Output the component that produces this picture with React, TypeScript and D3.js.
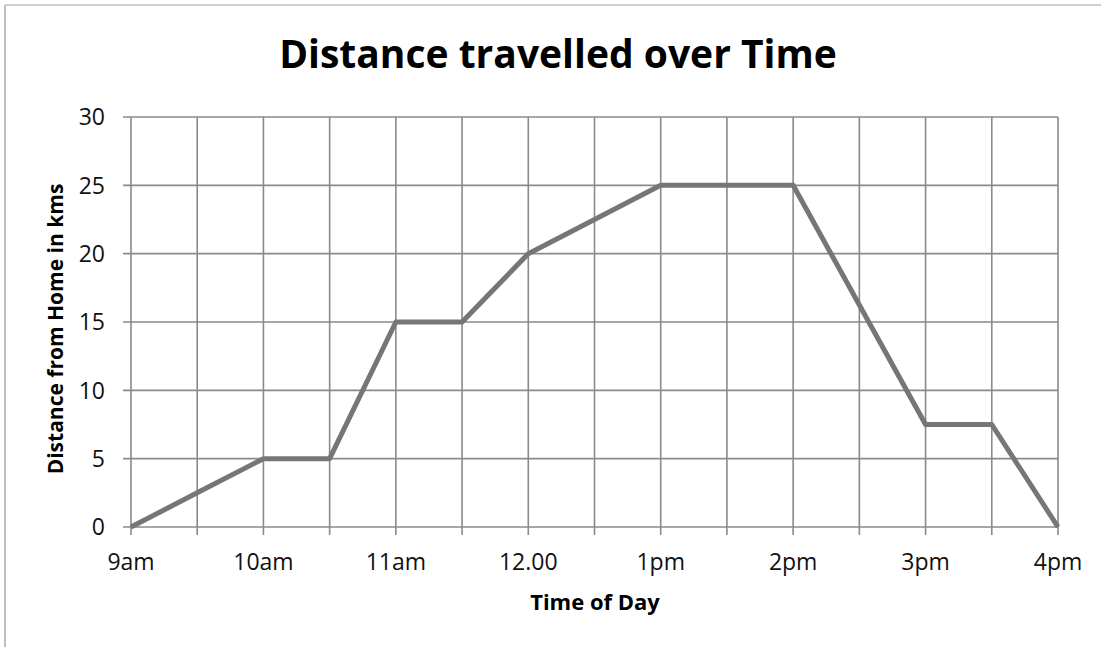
import React from "react";
import * as d3 from "d3";

const categories = ["9am", "9:30", "10am", "10:30", "11am", "11:30", "12.00", "12:30", "1pm", "1:30", "2pm", "2:30", "3pm", "3:30", "4pm"];
const tickLabels = ["9am", "", "10am", "", "11am", "", "12.00", "", "1pm", "", "2pm", "", "3pm", "", "4pm"];
const distance = [0, 2.5, 5, 5, 15, 15, 20, 22.5, 25, 25, 25, 16.25, 7.5, 7.5, 0];
const yTicks = [0, 5, 10, 15, 20, 25, 30];

const title = "Distance travelled over Time";
const xTitle = "Time of Day";
const yTitle = "Distance from Home in kms";

export default function App() {
  const W = 1101, H = 647;
  const left = 131, right = 1058, top = 117, bottom = 527;
  const x = d3.scalePoint<string>().domain(categories).range([left, right]);
  const y = d3.scaleLinear().domain([0, 30]).range([bottom, top]);
  const line = d3.line<number>().x((_, i) => x(categories[i])!).y((d) => y(d));
  const font = "'Open Sans', 'DejaVu Sans', sans-serif";
  const grid = "#8a8a8a";
  return (
    <svg width={W} height={H} style={{ position: "absolute", left: 0, top: 0, background: "#fff" }} fontFamily={font}>
      <rect x={0} y={0} width={W} height={H} fill="#fff" />
      <line x1={5} y1={5} x2={W} y2={5} stroke="#c0c0c0" strokeWidth={1.5} />
      <line x1={5} y1={5} x2={5} y2={H} stroke="#a8a8a8" strokeWidth={1.5} />
      <text x={558} y={68} textAnchor="middle" fontSize={39} fontWeight="bold" fill="#000">{title}</text>
      {yTicks.map((t) => (
        <g key={t}>
          <line x1={left - 8} x2={right} y1={y(t)} y2={y(t)} stroke={grid} strokeWidth={1.6} />
          <text x={left - 26} y={y(t)} dy="0.36em" textAnchor="end" fontSize={23} fill="#111">{t}</text>
        </g>
      ))}
      {categories.map((c, i) => (
        <g key={c}>
          <line x1={x(c)} x2={x(c)} y1={top} y2={bottom + 8} stroke={grid} strokeWidth={1.6} />
          {tickLabels[i] && (
            <text x={x(c)} y={570} textAnchor="middle" fontSize={23} fill="#111">{tickLabels[i]}</text>
          )}
        </g>
      ))}
      <path d={line(distance)!} fill="none" stroke="#767676" strokeWidth={5} strokeLinejoin="round" />
      <text x={595} y={610} textAnchor="middle" fontSize={22} fontWeight="bold" fill="#000">{xTitle}</text>
      <text transform={`translate(63,329) rotate(-90)`} textAnchor="middle" fontSize={21} fontWeight="bold" fill="#000">{yTitle}</text>
    </svg>
  );
}
